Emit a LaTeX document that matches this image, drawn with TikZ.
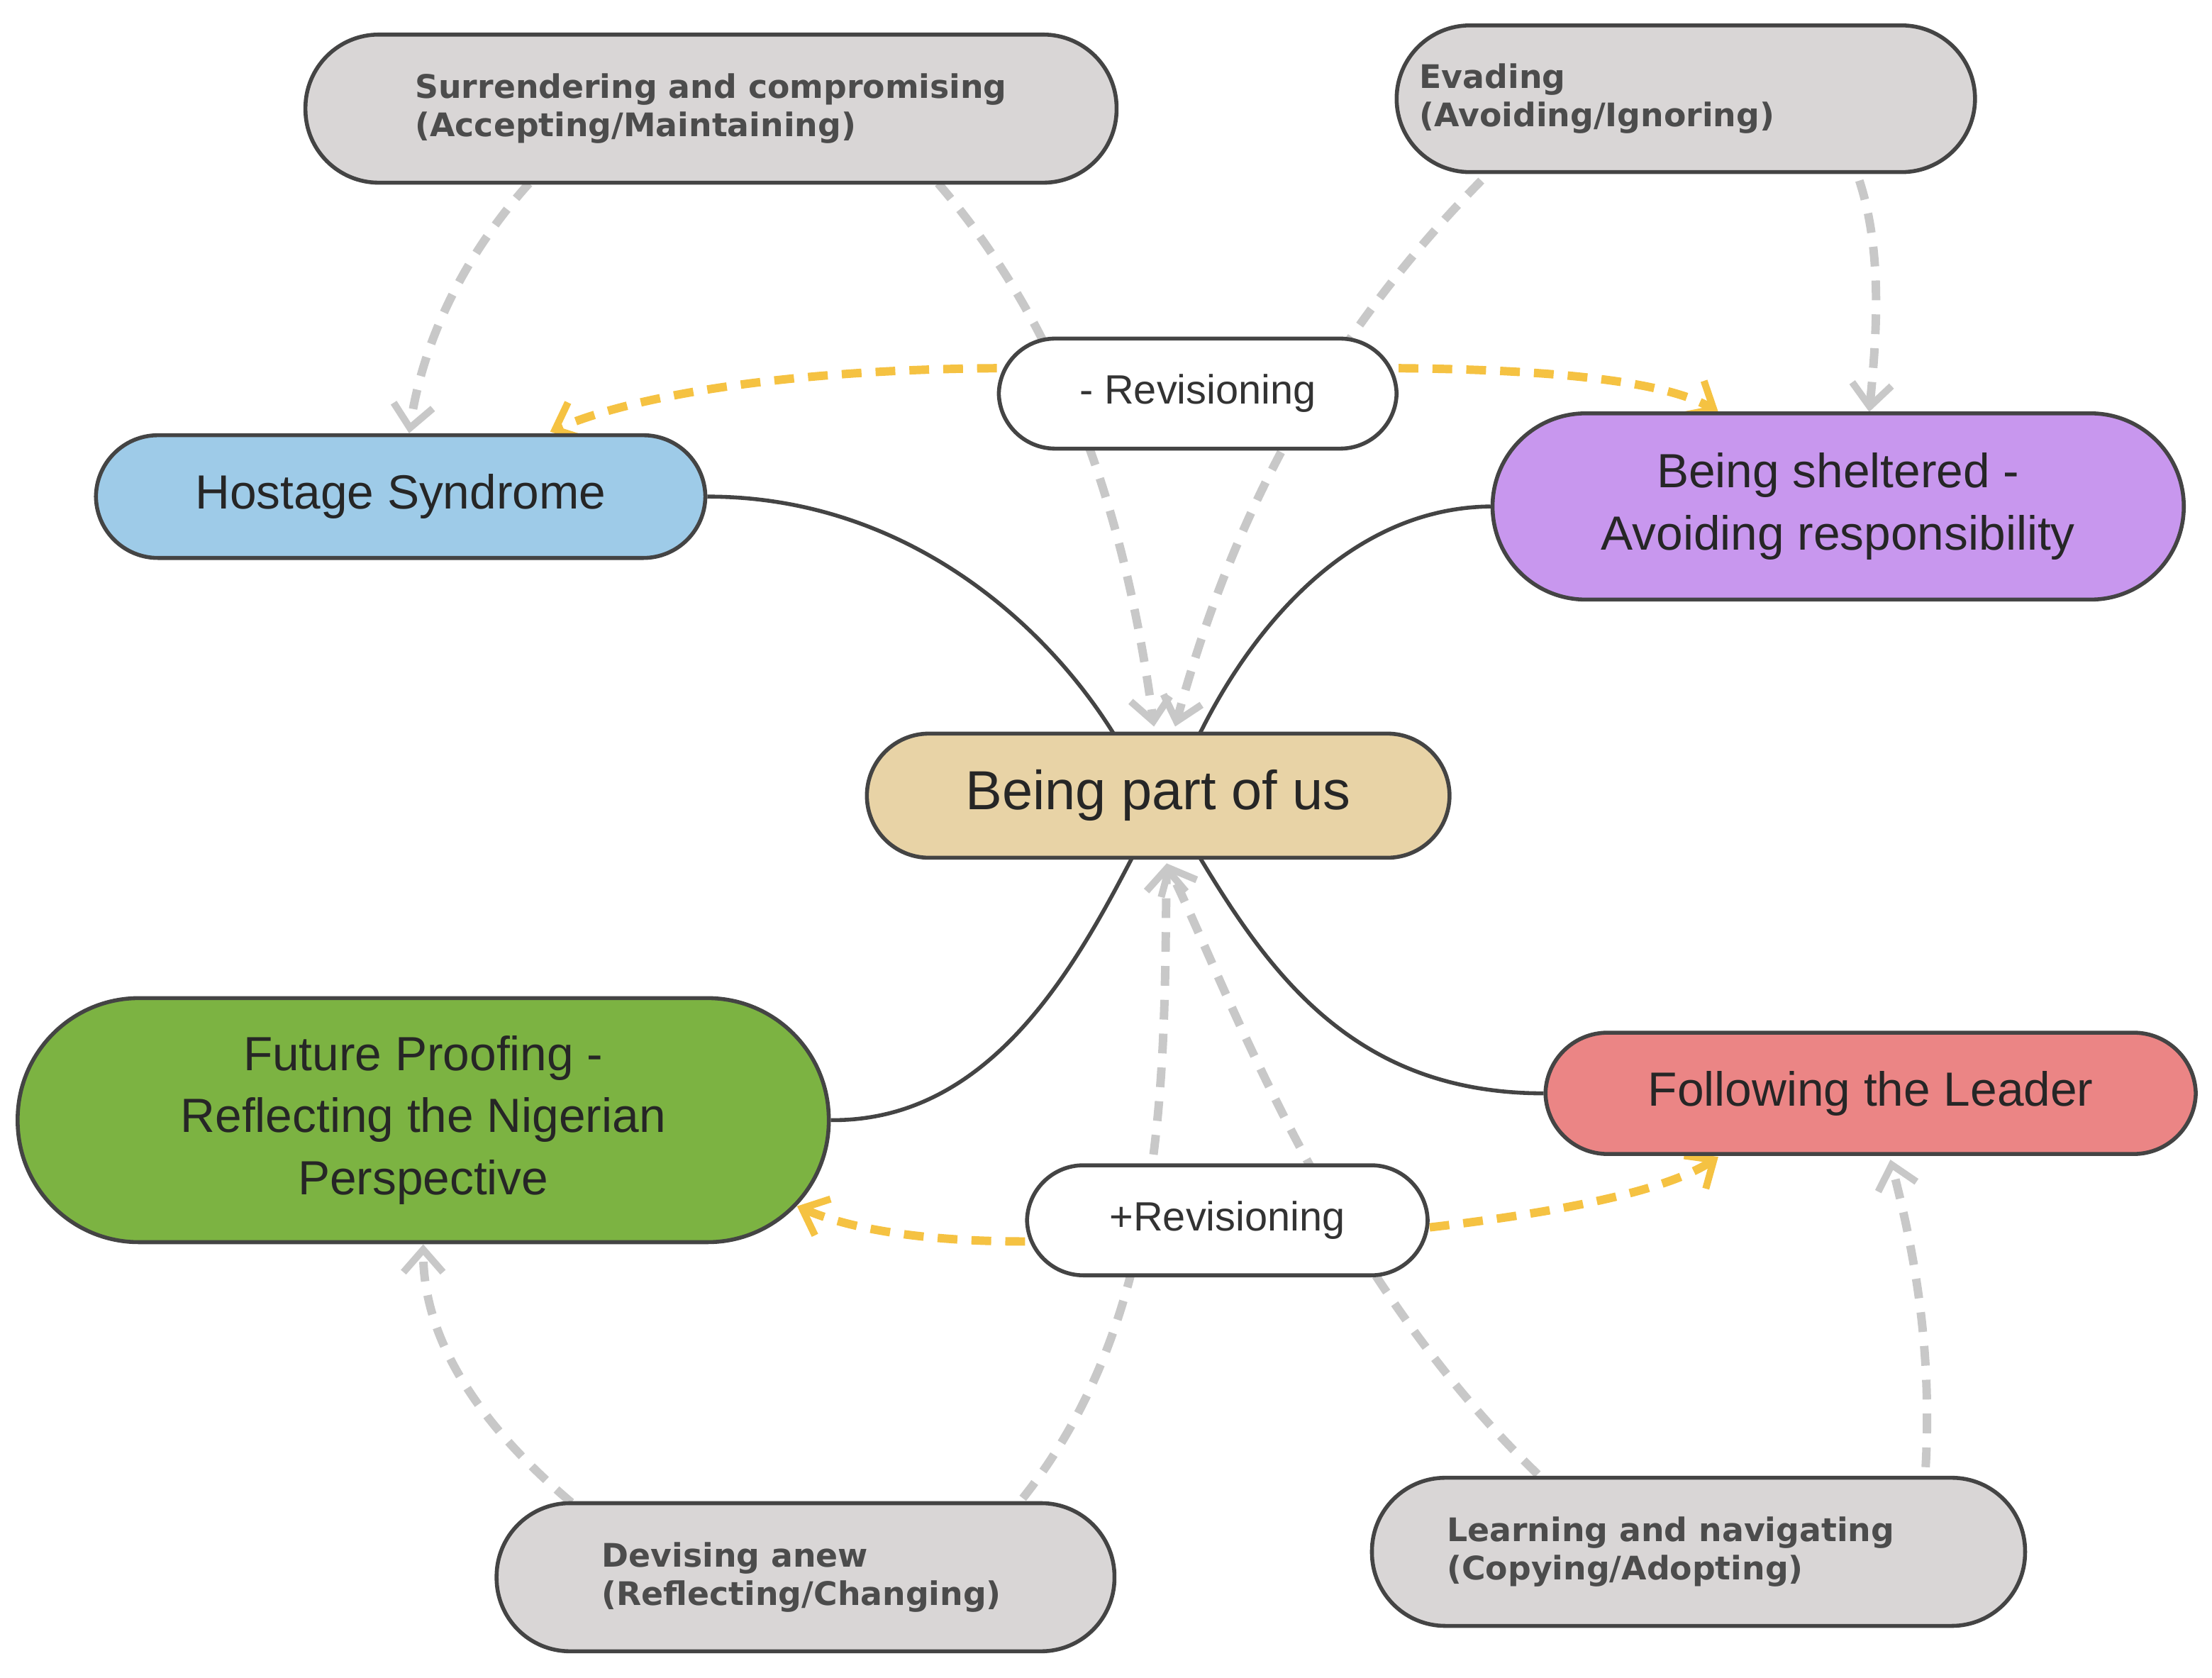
\documentclass[tikz,border=0pt]{standalone}
\usepackage{fontspec}
\setmainfont{Liberation Sans}
\newfontfamily\boxfont{DejaVu Sans}
\usetikzlibrary{backgrounds,arrows.meta}
\definecolor{edge}{HTML}{444444}
\definecolor{grayfill}{HTML}{D9D6D6}
\definecolor{dash}{HTML}{C8C8C8}
\definecolor{orng}{HTML}{F5C242}
\begin{document}
\begin{tikzpicture}[x=0.5pt,y=-0.5pt,
 main/.style={draw=edge,line width=1.4pt,rounded corners=#1,align=center,inner sep=0pt,text=black!85},
 gbox/.style={main=26pt,fill=grayfill,font=\boxfont\bfseries\fontsize{11.5}{13.5}\selectfont,text=black!70,align=left},
 rev/.style={main=20pt,fill=white,font=\fontsize{14.5}{17}\selectfont,text=black!80},
 gd/.style={draw=dash,line width=3pt,dash pattern=on 7pt off 5pt,-{Straight Barb[length=8pt,width=14pt,line width=2.5pt]}},
 od/.style={draw=orng,line width=3pt,dash pattern=on 7pt off 5pt,-{Straight Barb[length=8pt,width=14pt,line width=2.5pt]}},
 sd/.style={draw=edge,line width=1.4pt}]
\useasboundingbox (0,0) rectangle (1568,1189);
% nodes
\node[gbox,minimum width=575*0.5pt,minimum height=105*0.5pt] (sur) at (504,77) {\hspace*{0pt}Surrendering and compromising\\(Accepting/Maintaining)};
\node[gbox,minimum width=410*0.5pt,minimum height=104*0.5pt] (eva) at (1195,70) {Evading\hspace*{137pt}\\(Avoiding/Ignoring)};
\node[rev,minimum width=282*0.5pt,minimum height=78*0.5pt] (rm) at (849,279) {- Revisioning};
\node[main=22pt,fill=cyan!12!blue!10!white,fill={rgb,255:red,158;green,203;blue,232},minimum width=432*0.5pt,minimum height=87*0.5pt,font=\fontsize{17}{20}\selectfont] (hos) at (284,352) {Hostage Syndrome};
\node[main=33pt,fill={rgb,255:red,200;green,151;blue,238},minimum width=490*0.5pt,minimum height=132*0.5pt,font=\fontsize{17}{22}\selectfont] (she) at (1303,359) {Being sheltered -\\Avoiding responsibility};
\node[main=22pt,fill={rgb,255:red,232;green,211;blue,166},minimum width=413*0.5pt,minimum height=88*0.5pt,font=\fontsize{19.5}{22}\selectfont] (us) at (821,564) {Being part of us};
\node[main=43pt,fill={rgb,255:red,124;green,179;blue,66},minimum width=575*0.5pt,minimum height=173*0.5pt,font=\fontsize{17}{22}\selectfont] (fut) at (300,794) {Future Proofing -\\Reflecting the Nigerian\\Perspective};
\node[main=22pt,fill={rgb,255:red,235;green,133;blue,133},minimum width=461*0.5pt,minimum height=86*0.5pt,font=\fontsize{17}{20}\selectfont] (fol) at (1326,775) {Following the Leader};
\node[rev,minimum width=284*0.5pt,minimum height=78*0.5pt] (rp) at (870,865) {+Revisioning};
\node[gbox,minimum width=438*0.5pt,minimum height=105*0.5pt] (dev) at (571,1118) {Devising anew\hspace*{50pt}\\(Reflecting/Changing)};
\node[gbox,minimum width=463*0.5pt,minimum height=105*0.5pt] (lea) at (1204,1100) {Learning and navigating\\(Copying/Adopting)\hspace*{52pt}};
% coordinates
\coordinate (usT1) at (818,515); \coordinate (usT2) at (833,515);
\coordinate (usB) at (827,612);
\begin{scope}[on background layer]
\draw[sd] (hos.east) .. controls (640,352) and (740,440) .. (790,521);
\draw[sd] (she.west) .. controls (960,360) and (890,440) .. (850,521);
\draw[sd] (fut.east) .. controls (700,795) and (760,690) .. (803,607);
\draw[sd] (fol.west) .. controls (960,775) and (900,690) .. (850,607);
\draw[gd] (375,130) .. controls (330,180) and (300,240) .. (hos.north-|290,0);
\draw[gd] (665,130) .. controls (760,240) and (800,380) .. (usT1);
\draw[gd] (1050,128) .. controls (930,250) and (870,380) .. (usT2);
\draw[gd] (1318,128) .. controls (1335,180) and (1330,240) .. (1325,292);
\draw[gd] (405,1065) .. controls (340,1010) and (300,950) .. (300,882);
\draw[gd] (725,1062) .. controls (830,930) and (825,750) .. (usB);
\draw[gd] (1090,1045) .. controls (940,900) and (870,700) .. (usB);
\draw[gd] (1365,1040) .. controls (1370,950) and (1355,880) .. (1340,822);
\draw[od] (rm.west) ++(0,-18) .. controls (560,262) and (450,280) .. (390,306);
\draw[od] (rm.east) ++(0,-18) .. controls (1100,262) and (1180,270) .. (1218,292);
\draw[od] (rp.west) ++(0,15) .. controls (650,880) and (600,870) .. (565,855);
\draw[od] (rp.east) ++(0,5) .. controls (1100,860) and (1180,845) .. (1218,820);
\end{scope}
\end{tikzpicture}
\end{document}
